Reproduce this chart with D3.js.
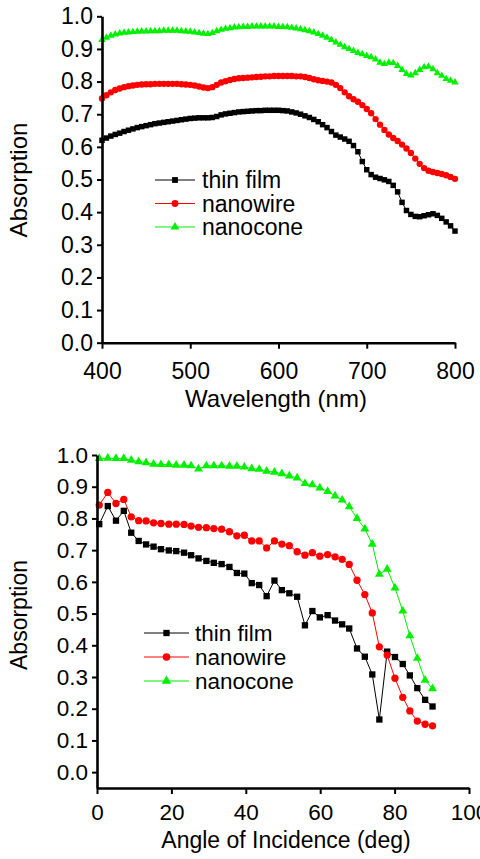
<!DOCTYPE html>
<html>
<head>
<meta charset="utf-8">
<script src="https://cdnjs.cloudflare.com/ajax/libs/d3/7.8.5/d3.min.js"></script>
<style>
  body { margin: 0; background: #fff; }
  svg { display: block; font-family: "Liberation Sans", Arial, sans-serif; }
</style>
</head>
<body>
<svg id="chart" width="480" height="859"></svg>
<script>
// ---- top panel: absorption vs wavelength ----
const wavelength = [400, 405, 410, 415, 420, 425, 430, 435, 440, 445, 450, 455, 460, 465, 470, 475, 480, 485, 490, 495,
  500, 505, 510, 515, 520, 525, 530, 535, 540, 545, 550, 555, 560, 565, 570, 575, 580, 585, 590, 595,
  600, 605, 610, 615, 620, 625, 630, 635, 640, 645, 650, 655, 660, 665, 670, 675, 680, 685, 690, 695,
  700, 705, 710, 715, 720, 725, 730, 735, 740, 745, 750, 755, 760, 765, 770, 775, 780, 785, 790, 795, 800];

const thinFilmWl = [0.620, 0.627, 0.633, 0.638, 0.642, 0.647, 0.651, 0.655, 0.659, 0.662, 0.665, 0.668, 0.671, 0.673, 0.675, 0.677, 0.679, 0.681, 0.683, 0.685,
  0.687, 0.688, 0.689, 0.689, 0.689, 0.690, 0.693, 0.698, 0.701, 0.703, 0.705, 0.707, 0.708, 0.709, 0.710, 0.711, 0.711, 0.712, 0.712, 0.712,
  0.712, 0.711, 0.710, 0.707, 0.704, 0.700, 0.695, 0.690, 0.684, 0.677, 0.668, 0.659, 0.647, 0.636, 0.630, 0.624, 0.617, 0.604, 0.585, 0.555,
  0.530, 0.515, 0.507, 0.503, 0.499, 0.494, 0.482, 0.462, 0.430, 0.405, 0.393, 0.387, 0.386, 0.389, 0.392, 0.395, 0.390, 0.381, 0.370, 0.358, 0.342];

const nanowireWl = [0.748, 0.758, 0.767, 0.774, 0.779, 0.783, 0.786, 0.788, 0.790, 0.791, 0.792, 0.792, 0.793, 0.793, 0.793, 0.793, 0.793, 0.793, 0.792, 0.791,
  0.790, 0.788, 0.785, 0.782, 0.780, 0.783, 0.790, 0.797, 0.801, 0.805, 0.808, 0.810, 0.811, 0.812, 0.813, 0.814, 0.815, 0.816, 0.816, 0.817,
  0.817, 0.817, 0.817, 0.817, 0.816, 0.816, 0.814, 0.811, 0.807, 0.804, 0.802, 0.800, 0.797, 0.790, 0.780, 0.767, 0.755, 0.746, 0.738, 0.728,
  0.716, 0.703, 0.685, 0.668, 0.652, 0.638, 0.627, 0.618, 0.607, 0.595, 0.581, 0.564, 0.548, 0.535, 0.527, 0.523, 0.520, 0.517, 0.513, 0.508, 0.502];

const nanoconeWl = [0.928, 0.935, 0.941, 0.945, 0.948, 0.950, 0.951, 0.952, 0.953, 0.954, 0.954, 0.955, 0.955, 0.955, 0.956, 0.956, 0.956, 0.956, 0.955, 0.954,
  0.953, 0.951, 0.949, 0.947, 0.946, 0.949, 0.955, 0.959, 0.962, 0.964, 0.966, 0.967, 0.968, 0.968, 0.969, 0.969, 0.969, 0.969, 0.969, 0.969,
  0.968, 0.968, 0.967, 0.965, 0.963, 0.961, 0.958, 0.955, 0.951, 0.946, 0.941, 0.935, 0.928, 0.920, 0.913, 0.906, 0.900, 0.894, 0.888, 0.884,
  0.879, 0.875, 0.868, 0.858, 0.854, 0.858, 0.857, 0.848, 0.836, 0.824, 0.819, 0.826, 0.836, 0.844, 0.846, 0.838, 0.826, 0.818, 0.808, 0.803, 0.798];

// ---- bottom panel: absorption vs angle of incidence ----
const angle = [0.6, 2.9, 5.1, 7.2, 9.2, 11.2, 13.2, 15.2, 17.2, 19.3, 21.3, 23.4, 25.3, 27.3, 29.4, 31.4, 33.5, 35.6, 37.6, 39.6,
  41.6, 43.6, 45.6, 47.7, 49.7, 51.7, 53.8, 55.9, 57.9, 59.9, 62.0, 64.0, 65.9, 67.8, 69.9, 72.0, 74.0, 75.9, 78.0, 80.1,
  82.2, 84.1, 86.1, 88.2, 90.2];

const thinFilmAng = [0.782, 0.839, 0.793, 0.824, 0.755, 0.729, 0.718, 0.711, 0.703, 0.699, 0.697, 0.692, 0.684, 0.674, 0.666, 0.660, 0.656, 0.647, 0.628, 0.626,
  0.596, 0.590, 0.555, 0.604, 0.574, 0.564, 0.553, 0.463, 0.508, 0.488, 0.495, 0.478, 0.466, 0.453, 0.390, 0.364, 0.308, 0.166, 0.380, 0.363,
  0.341, 0.305, 0.265, 0.228, 0.207];

const nanowireAng = [0.842, 0.882, 0.847, 0.860, 0.805, 0.793, 0.792, 0.786, 0.784, 0.782, 0.782, 0.781, 0.776, 0.772, 0.771, 0.768, 0.766, 0.758, 0.745, 0.747,
  0.729, 0.729, 0.707, 0.729, 0.719, 0.714, 0.695, 0.684, 0.692, 0.681, 0.686, 0.679, 0.671, 0.655, 0.605, 0.560, 0.502, 0.395, 0.369, 0.296,
  0.236, 0.193, 0.161, 0.151, 0.146];

const nanoconeAng = [0.989, 0.990, 0.989, 0.989, 0.984, 0.979, 0.976, 0.971, 0.970, 0.970, 0.968, 0.968, 0.966, 0.956, 0.966, 0.966, 0.966, 0.965, 0.965, 0.962,
  0.957, 0.955, 0.949, 0.946, 0.941, 0.934, 0.928, 0.910, 0.906, 0.896, 0.885, 0.871, 0.858, 0.837, 0.800, 0.767, 0.719, 0.624, 0.640, 0.581,
  0.508, 0.430, 0.359, 0.290, 0.263];

const seriesNames = ["thin film", "nanowire", "nanocone"];
const seriesColors = ["#000000", "#ff0000", "#00f000"];
const seriesShapes = [d3.symbolSquare, d3.symbolCircle, d3.symbolTriangle];

const yMajor = [0, 0.1, 0.2, 0.3, 0.4, 0.5, 0.6, 0.7, 0.8, 0.9, 1.0];
const yMinorTop = [0.05, 0.15, 0.25, 0.35, 0.45, 0.55, 0.65, 0.75, 0.85, 0.95];
const yMinorBottom = [-0.05, 0.05, 0.15, 0.25, 0.35, 0.45, 0.55, 0.65, 0.75, 0.85, 0.95];
const wlMajor = [400, 500, 600, 700, 800];
const wlMinor = [450, 550, 650, 750];
const angMajor = [0, 20, 40, 60, 80, 100];
const angMinor = [10, 30, 50, 70, 90];

const svg = d3.select("#chart");

const drawPanel = (p) => {
    const g = svg.append("g");

    // series: thin line + markers
    p.series.forEach((vals, i) => {
        const pts = p.xs.map((x, j) => [x, vals[j]]);
        const line = d3.line().x(d => p.x(d[0])).y(d => p.y(d[1]));
        g.append("path")
            .attr("d", line(pts))
            .attr("fill", "none")
            .attr("stroke", seriesColors[i])
            .attr("stroke-width", 1);
        g.selectAll(null)
            .data(pts)
            .enter().append("path")
            .attr("transform", d => `translate(${p.x(d[0])},${p.y(d[1])})`)
            .attr("d", d3.symbol().type(seriesShapes[i]).size(p.markSizes[i]))
            .attr("fill", seriesColors[i]);
    });

    // axes
    const yAx = g.append("g").attr("transform", `translate(${p.x.range()[0]},0)`);
    yAx.call(d3.axisLeft(p.y).tickValues(p.yMinor).tickSize(3).tickFormat(""));
    yAx.call(d3.axisLeft(p.y).tickValues(yMajor).tickSize(5).tickSizeOuter(0).tickPadding(4).tickFormat(d3.format(".1f")));

    const xAx = g.append("g").attr("transform", `translate(0,${p.y.range()[0]})`);
    xAx.call(d3.axisBottom(p.x).tickValues(p.xMinor).tickSize(3.5).tickFormat(""));
    xAx.call(d3.axisBottom(p.x).tickValues(p.xMajor).tickSize(6).tickSizeOuter(0).tickPadding(p.xPad));

    [yAx, xAx].forEach(a => {
        a.selectAll(".domain").attr("stroke", "#000").attr("stroke-width", 2.6);
        a.selectAll(".tick line").attr("stroke", "#000").attr("stroke-width", 2);
        a.selectAll("text").attr("font-size", p.tickFont).attr("fill", "#000")
            .style("font-family", "'Liberation Sans', Arial, sans-serif");
    });

    // titles
    g.append("text")
        .attr("x", p.xTitle[0]).attr("y", p.xTitle[1])
        .attr("text-anchor", "middle")
        .attr("font-size", p.titleFont)
        .text(p.xLabel);
    g.append("text")
        .attr("transform", `translate(${p.yTitle[0]},${p.yTitle[1]}) rotate(-90)`)
        .attr("text-anchor", "middle")
        .attr("font-size", p.titleFont)
        .text("Absorption");

    // legend
    seriesNames.forEach((name, i) => {
        const ly = p.legend.y + i * p.legend.step;
        g.append("line")
            .attr("x1", p.legend.x0).attr("x2", p.legend.x1)
            .attr("y1", ly).attr("y2", ly)
            .attr("stroke", seriesColors[i]).attr("stroke-width", 1);
        g.append("path")
            .attr("transform", `translate(${(p.legend.x0 + p.legend.x1) / 2},${ly})`)
            .attr("d", d3.symbol().type(seriesShapes[i]).size(p.legend.sizes[i]))
            .attr("fill", seriesColors[i]);
        g.append("text")
            .attr("x", p.legend.tx).attr("y", ly)
            .attr("dy", "0.35em")
            .attr("font-size", p.legend.font)
            .text(name);
    });
};

drawPanel({
    xs: wavelength,
    series: [thinFilmWl, nanowireWl, nanoconeWl],
    x: d3.scaleLinear().domain([400, 800]).range([102, 455]),
    y: d3.scaleLinear().domain([0, 1]).range([342.7, 16.3]),
    yMinor: yMinorTop, xMajor: wlMajor, xMinor: wlMinor, xPad: 14,
    markSizes: [30, 32, 24],
    tickFont: 23, titleFont: 24,
    xLabel: "Wavelength (nm)", xTitle: [276, 407], yTitle: [27, 180],
    legend: { x0: 155, x1: 195, tx: 202, y: 180, step: 23.5, font: 23, sizes: [34, 38, 34] }
});

drawPanel({
    xs: angle,
    series: [thinFilmAng, nanowireAng, nanoconeAng],
    x: d3.scaleLinear().domain([0, 100]).range([97, 469]),
    y: d3.scaleLinear().domain([-0.05, 1.0]).range([788, 455]),
    yMinor: yMinorBottom, xMajor: angMajor, xMinor: angMinor, xPad: 10,
    markSizes: [40, 42, 34],
    tickFont: 22.5, titleFont: 23,
    xLabel: "Angle of Incidence (deg)", xTitle: [286, 848], yTitle: [27, 615],
    legend: { x0: 144, x1: 189, tx: 195, y: 633, step: 24, font: 22.5, sizes: [40, 44, 40] }
});
</script>
</body>
</html>
